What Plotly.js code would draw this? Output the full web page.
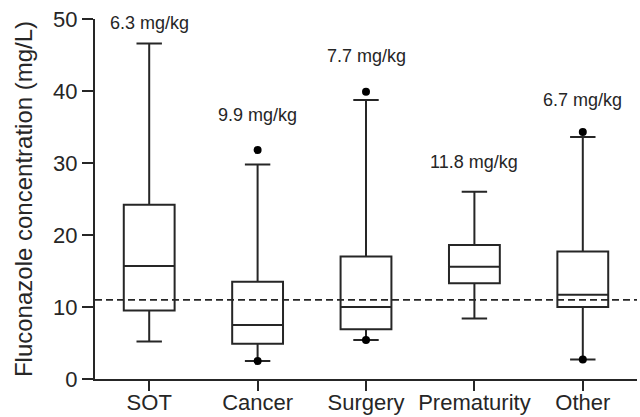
<!DOCTYPE html>
<html>
<head>
<meta charset="utf-8">
<script src="https://cdn.plot.ly/plotly-3.0.1.min.js"></script>
<style>html,body{margin:0;padding:0;background:#fff;}#chart{width:640px;height:417px;}</style>
</head>
<body>
<div id="chart"></div>
<script>
// Data
var categories = ["SOT", "Cancer", "Surgery", "Prematurity", "Other"];
var lowerWhisker = [5.2, 2.5, 5.4, 8.4, 2.7];
var q1 = [9.5, 4.9, 6.9, 13.3, 10.0];
var median = [15.7, 7.5, 10.0, 15.6, 11.7];
var q3 = [24.2, 13.5, 17.0, 18.6, 17.7];
var upperWhisker = [46.6, 29.8, 38.75, 26.0, 33.6];
var outlierCategory = ["Cancer", "Cancer", "Surgery", "Surgery", "Other", "Other"];
var outlierValue = [31.8, 2.5, 39.9, 5.4, 34.3, 2.7];
var doseLabels = ["6.3 mg/kg", "9.9 mg/kg", "7.7 mg/kg", "11.8 mg/kg", "6.7 mg/kg"];
var doseLabelY = [49.5, 36.7, 44.9, 30.1, 38.7];
var targetConcentration = 11;

var ink = "#262626";
var font = "Liberation Sans, Arial, sans-serif";

var boxTrace = {
  type: "box",
  x: categories,
  q1: q1,
  median: median,
  q3: q3,
  lowerfence: lowerWhisker,
  upperfence: upperWhisker,
  boxpoints: false,
  whiskerwidth: 0.5,
  fillcolor: "#ffffff",
  line: {color: ink, width: 2},
  showlegend: false,
  hoverinfo: "skip"
};

var outlierTrace = {
  type: "scatter",
  mode: "markers",
  x: outlierCategory,
  y: outlierValue,
  marker: {color: "#000000", size: 8},
  showlegend: false,
  hoverinfo: "skip"
};

var annotations = categories.map(function (c, i) {
  return {
    x: c, y: doseLabelY[i], xref: "x", yref: "y",
    text: doseLabels[i], showarrow: false,
    xanchor: "center", yanchor: "middle",
    font: {family: font, size: 18, color: ink}
  };
});

var layout = {
  width: 640,
  height: 417,
  margin: {l: 95, r: 3, t: 19, b: 38},
  paper_bgcolor: "#ffffff",
  plot_bgcolor: "#ffffff",
  font: {family: font, color: ink},
  boxgap: 0.33,
  xaxis: {
    type: "category",
    categoryorder: "array",
    categoryarray: categories,
    range: [-0.5, 4.5],
    showline: true,
    linecolor: ink,
    linewidth: 2,
    ticks: "outside",
    ticklen: 10,
    tickwidth: 2,
    tickcolor: ink,
    ticklabelstandoff: -7,
    showgrid: false,
    zeroline: false,
    tickfont: {family: font, size: 22, color: ink}
  },
  yaxis: {
    range: [0, 50],
    dtick: 10,
    tick0: 0,
    showline: true,
    linecolor: ink,
    linewidth: 2,
    ticks: "outside",
    ticklen: 11,
    tickwidth: 2,
    tickcolor: ink,
    showgrid: false,
    zeroline: false,
    tickfont: {family: font, size: 22, color: ink},
    title: {text: "Fluconazole concentration (mg/L)", font: {family: font, size: 24, color: ink}, standoff: 14}
  },
  shapes: [{
    type: "line", xref: "paper", yref: "y",
    x0: 0, x1: 1, y0: targetConcentration, y1: targetConcentration,
    line: {color: ink, width: 1.8, dash: "7px,4px"}
  }],
  annotations: annotations
};

Plotly.newPlot("chart", [boxTrace, outlierTrace], layout, {staticPlot: true, displayModeBar: false});
</script>
</body>
</html>
